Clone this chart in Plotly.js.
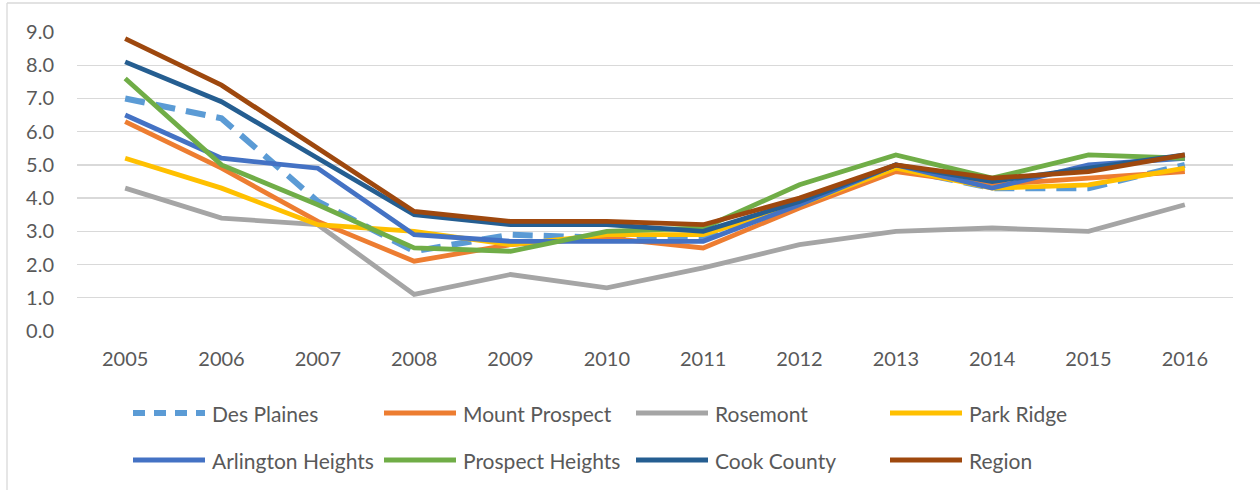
<!DOCTYPE html>
<html>
<head>
<meta charset="utf-8">
<script src="https://cdn.plot.ly/plotly-3.0.1.min.js"></script>
<style>html,body{margin:0;padding:0;background:#fff;}#chart{width:1260px;height:490px;}</style>
</head>
<body>
<div id="chart"></div>
<script>
const years = ["2005","2006","2007","2008","2009","2010","2011","2012","2013","2014","2015","2016"];
const seriesNames = ["Des Plaines","Mount Prospect","Rosemont","Park Ridge","Arlington Heights","Prospect Heights","Cook County","Region"];
const desPlaines       = [7.0, 6.4, 3.9, 2.4, 2.9, 2.8, 2.8, 3.8, 4.9, 4.3, 4.3, 5.0];
const mountProspect    = [6.3, 4.9, 3.3, 2.1, 2.6, 2.8, 2.5, 3.7, 4.8, 4.4, 4.6, 4.8];
const rosemont         = [4.3, 3.4, 3.2, 1.1, 1.7, 1.3, 1.9, 2.6, 3.0, 3.1, 3.0, 3.8];
const parkRidge        = [5.2, 4.3, 3.2, 3.0, 2.6, 2.9, 2.9, 3.8, 4.9, 4.3, 4.4, 4.9];
const arlingtonHeights = [6.5, 5.2, 4.9, 2.9, 2.7, 2.7, 2.7, 3.8, 5.0, 4.3, 5.0, 5.2];
const prospectHeights  = [7.6, 5.0, 3.8, 2.5, 2.4, 3.0, 3.1, 4.4, 5.3, 4.6, 5.3, 5.2];
const cookCounty       = [8.1, 6.9, 5.2, 3.5, 3.2, 3.2, 3.0, 3.9, 5.0, 4.5, 4.9, 5.3];
const region           = [8.8, 7.4, 5.5, 3.6, 3.3, 3.3, 3.2, 4.0, 5.0, 4.6, 4.8, 5.3];
const yTicks = [0,1,2,3,4,5,6,7,8,9];

const seriesValues = [desPlaines, mountProspect, rosemont, parkRidge, arlingtonHeights, prospectHeights, cookCounty, region];
const colors = ["#5B9BD5","#ED7D31","#A5A5A5","#FFC000","#4472C4","#70AD47","#255E91","#9E480E"];

const W = 1260, H = 490;
const mL = 77, mR = 27, mT = 32, mB = 159;
const pw = W - mL - mR, ph = H - mT - mB;
const px = x => (x - mL) / pw;
const py = y => (H - mB - y) / ph;

const traces = seriesNames.map((name, i) => ({
  type: 'scatter', mode: 'lines', name: name,
  x: years, y: seriesValues[i],
  line: i === 0 ? {color: colors[i], width: 6, dash: '20px,11px'} : {color: colors[i], width: 4.8},
  showlegend: false, hoverinfo: 'x+y+name'
}));

const FONT = 'Lato, "Noto Sans", sans-serif';
const shapes = [
  {type:'line', xref:'paper', yref:'paper', x0:px(7), x1:px(1262), y0:py(3), y1:py(3), line:{color:'#D9D9D9', width:1.3}},
  {type:'line', xref:'paper', yref:'paper', x0:px(7), x1:px(7), y0:py(3), y1:py(492), line:{color:'#D9D9D9', width:1.3}}
];
const annotations = [];
const colX = [133, 384, 636, 890];
const rowY = [413, 460];
seriesNames.forEach((name, i) => {
  const cx = colX[i % 4], cy = rowY[Math.floor(i / 4)];
  shapes.push({type:'line', xref:'paper', yref:'paper', x0:px(cx), x1:px(cx+72), y0:py(cy), y1:py(cy),
    line: i === 0 ? {color: colors[i], width: 6, dash: '12px,9px'} : {color: colors[i], width: 4.8}});
  annotations.push({xref:'paper', yref:'paper', x:px(cx+77), y:py(cy), xanchor:'left', yanchor:'middle',
    text: name, showarrow:false, font:{family: FONT, size: 21, color:'#595959'}});
});

const layout = {
  width: W, height: H,
  margin: {l: mL, r: mR, t: mT, b: mB},
  paper_bgcolor: '#fff', plot_bgcolor: '#fff',
  showlegend: false,
  font: {family: FONT, size: 20, color: '#595959'},
  xaxis: {type: 'category', range: [-0.5, 11.5], showgrid: false, zeroline: false,
          showline: false, ticks: '', ticklabelstandoff: 14, tickfont: {family: FONT, size: 20, color: '#595959'}, fixedrange: true},
  yaxis: {range: [0, 9], tickvals: yTicks, ticktext: yTicks.map(v => v.toFixed(1)), showgrid: true, gridcolor: '#D9D9D9', gridwidth: 1.3,
          zeroline: false, showline: false, ticks: '', ticklabelstandoff: 22, tickfont: {family: FONT, size: 20, color: '#595959'}, fixedrange: true},
  shapes: shapes,
  annotations: annotations
};
Plotly.newPlot('chart', traces, layout, {displayModeBar: false, staticPlot: true});
</script>
</body>
</html>
